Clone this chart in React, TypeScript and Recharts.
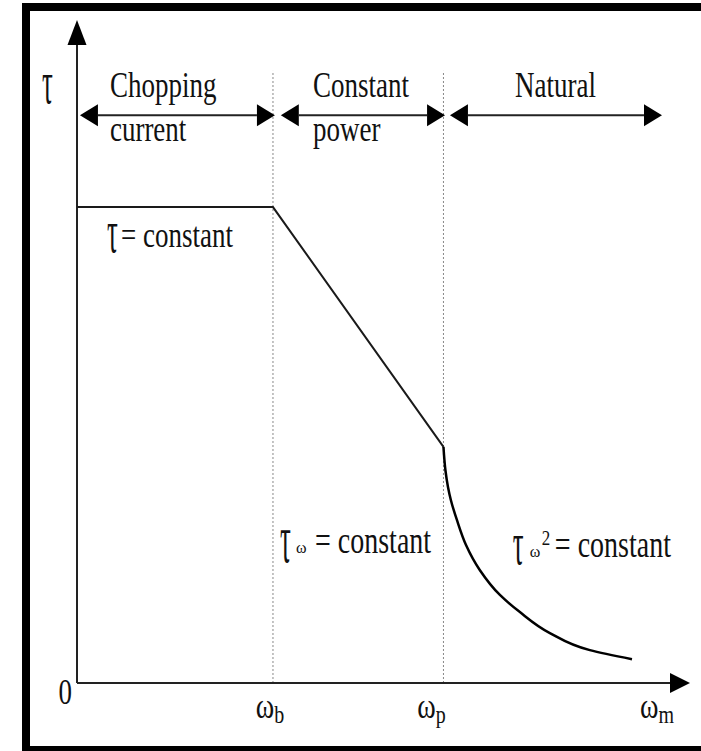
import React from 'react';
import { ComposedChart, Line, XAxis, YAxis, ReferenceLine, ReferenceDot } from 'recharts';

// ---- data (speed in % of base speed ωb, torque in % of rated torque) ----
const constantTorqueSpeed = [0, 100];
const constantTorqueValue = [100, 100];
const constantPowerSpeed = [100, 187];
const constantPowerValue = [100, 49.6];
const naturalSpeed = [187, 188.0, 189.3, 190.8, 193.9, 198.5, 205.6, 215.8, 226.0, 241.3, 261.7, 283.2];
const naturalTorque = [49.6, 44.7, 41.2, 38.4, 34.2, 29.0, 23.7, 18.5, 14.9, 10.5, 6.9, 5.0];
const boundarySpeeds = [100, 187];
const speedTicks = [100, 187, 296];
const speedTickSymbols = ['ω', 'ω', 'ω'];
const speedTickSubs = ['b', 'p', 'm'];
const regionStart = [1.5, 104, 190.3];
const regionEnd = [101, 187.8, 298.5];
const regionArrowLevel = 119.3;
const torqueTicks = [0];
const xMax = 312.8;
const yMax = 139.3;
const boundaryTop = 128.6;

const pieceData = [
  ...constantTorqueSpeed.map((w, i) => ({ w, t: constantTorqueValue[i] })),
  ...constantPowerSpeed.slice(1).map((w, i) => ({ w, t: constantPowerValue[i + 1] })),
];
const naturalData = naturalSpeed.map((w, i) => ({ w, t: naturalTorque[i] }));

const FONT = 'Liberation Serif';
const INK = '#111';

function Txt({ x, y, size = 27, sy = 1.33, anchor = 'start', children, font = FONT }: any) {
  return (
    <text
      transform={`translate(${x},${y}) scale(1,${sy})`}
      x={0}
      y={0}
      style={{ fontFamily: font }}
      fontSize={size}
      fill={INK}
      textAnchor={anchor}
    >
      {children}
    </text>
  );
}

function arrowHead(tx: number, ty: number, ux: number, uy: number, len: number, half: number) {
  const bx = tx - ux * len;
  const by = ty - uy * len;
  const px = -uy;
  const py = ux;
  return {
    pts: `${tx},${ty} ${bx + px * half},${by + py * half} ${bx - px * half},${by - py * half}`,
    bx,
    by,
  };
}

function Arrow({ x1, y1, x2, y2, len, half, both, width = 2, color = '#222' }: any) {
  const dx = x2 - x1;
  const dy = y2 - y1;
  const L = Math.hypot(dx, dy) || 1;
  const ux = dx / L;
  const uy = dy / L;
  const end = arrowHead(x2, y2, ux, uy, len, half);
  const start = both ? arrowHead(x1, y1, -ux, -uy, len, half) : null;
  const sx = start ? start.bx : x1;
  const sy = start ? start.by : y1;
  return (
    <g>
      <line x1={sx} y1={sy} x2={end.bx} y2={end.by} stroke={color} strokeWidth={width} />
      <polygon points={end.pts} fill="#000" />
      {start && <polygon points={start.pts} fill="#000" />}
    </g>
  );
}

const tickDx = [-3, -12, 0];

function SpeedTick(props: any) {
  const { x, y, payload } = props;
  const i = speedTicks.indexOf(payload.value);
  if (i < 0) return null;
  return (
    <g transform={`translate(${x + tickDx[i]},${y + 35}) scale(1,1.25)`}>
      <text x={0} y={0} textAnchor="middle" style={{ fontFamily: FONT }} fontSize={28} fill={INK}>
        <tspan>{speedTickSymbols[i]}</tspan>
        <tspan fontSize={20} dy={4}>{speedTickSubs[i]}</tspan>
      </text>
    </g>
  );
}

function TorqueTick(props: any) {
  const { x, y, payload } = props;
  return (
    <Txt x={x - 5} y={y + 21} anchor="end" size={27} sy={1.3}>
      {String(payload.value)}
    </Txt>
  );
}

function Label({ x, y, children }: any) {
  return (
    <ReferenceDot
      x={x}
      y={y}
      r={0}
      ifOverflow="visible"
      shape={(p: any) => <g transform={`translate(${p.cx},${p.cy})`}>{children}</g>}
    />
  );
}

export default function App() {
  return (
    <div style={{ position: 'absolute', left: 0, top: 0, width: 701, height: 751, background: '#fff', overflow: 'hidden' }}>
      <ComposedChart width={701} height={751} margin={{ top: 20, right: 11, bottom: 0, left: 0 }}>
        <XAxis
          dataKey="w"
          type="number"
          domain={[0, xMax]}
          allowDataOverflow
          ticks={speedTicks}
          interval={0}
          height={68}
          axisLine={false}
          tickLine={false}
          tickSize={0}
          tickMargin={0}
          tick={<SpeedTick />}
        />
        <YAxis
          dataKey="t"
          type="number"
          domain={[0, yMax]}
          allowDataOverflow
          ticks={torqueTicks}
          width={77}
          axisLine={false}
          tickLine={false}
          tickSize={0}
          tickMargin={0}
          tick={<TorqueTick />}
        />

        {boundarySpeeds.map((w) => (
          <ReferenceLine
            key={`b${w}`}
            segment={[{ x: w, y: 0 }, { x: w, y: boundaryTop }]}
            stroke="#888"
            strokeWidth={1}
            strokeDasharray="2 2"
          />
        ))}

        <ReferenceLine
          segment={[{ x: 0, y: 0 }, { x: 0, y: yMax }]}
          ifOverflow="visible"
          shape={(p: any) => <Arrow {...p} len={25} half={9.5} />}
        />
        <ReferenceLine
          segment={[{ x: 0, y: 0 }, { x: xMax, y: 0 }]}
          ifOverflow="visible"
          shape={(p: any) => <Arrow {...p} len={20} half={10} />}
        />

        {regionStart.map((s, i) => (
          <ReferenceLine
            key={`r${i}`}
            segment={[{ x: s, y: regionArrowLevel }, { x: regionEnd[i], y: regionArrowLevel }]}
            ifOverflow="visible"
            shape={(p: any) => <Arrow {...p} len={18} half={11} both width={2} />}
          />
        ))}

        <Line
          data={pieceData}
          dataKey="t"
          type="linear"
          stroke="#1a1a1a"
          strokeWidth={2}
          dot={false}
          activeDot={false}
          isAnimationActive={false}
        />
        <Line
          data={naturalData}
          dataKey="t"
          type="monotoneY"
          stroke="#000"
          strokeWidth={2.5}
          dot={false}
          activeDot={false}
          isAnimationActive={false}
        />

        {/* region labels */}
        <Label x={16.8} y={123.1}><Txt x={0} y={0}>Chopping</Txt></Label>
        <Label x={16.8} y={113.9}><Txt x={0} y={0}>current</Txt></Label>
        <Label x={120.4} y={123.1}><Txt x={0} y={0}>Constant</Txt></Label>
        <Label x={120.4} y={113.9}><Txt x={0} y={0}>power</Txt></Label>
        <Label x={223.5} y={123.1}><Txt x={0} y={0}>Natural</Txt></Label>

        {/* torque axis symbol */}
        <Label x={0} y={123.1}>
          <Txt x={-35} y={6} sy={2.3}>τ</Txt>
        </Label>

        {/* characteristic annotations */}
        <Label x={15.3} y={91.6}>
          <Txt x={0} y={5} sy={2.25}>τ</Txt>
          <Txt x={14} y={0}>= constant</Txt>
        </Label>
        <Label x={103.6} y={27.3}>
          <Txt x={0} y={9} sy={2.6}>τ</Txt>
          <Txt x={16} y={0} size={16} sy={1}>ω</Txt>
          <Txt x={35} y={0} size={28}>= constant</Txt>
        </Label>
        <Label x={222.4} y={26.9}>
          <Txt x={0} y={9} sy={2.3}>τ</Txt>
          <Txt x={17} y={2} size={16} sy={1}>ω</Txt>
          <Txt x={29} y={-10} size={17} sy={1.2}>2</Txt>
          <Txt x={42} y={2} size={28}>= constant</Txt>
        </Label>
      </ComposedChart>
      <div
        style={{
          position: 'absolute',
          left: 22,
          top: 3,
          width: 679,
          height: 748,
          boxSizing: 'border-box',
          borderLeft: '8px solid #000',
          borderTop: '8px solid #000',
          borderBottom: '5px solid #000',
          pointerEvents: 'none',
        }}
      />
    </div>
  );
}
